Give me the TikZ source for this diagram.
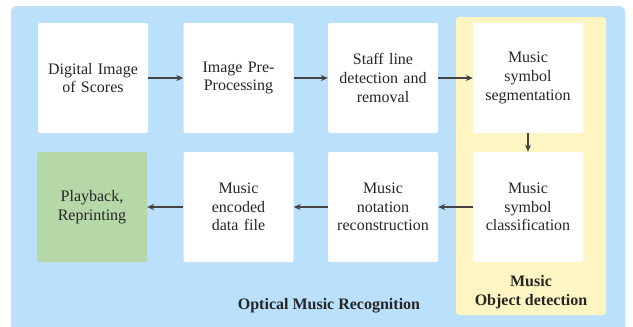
\documentclass[tikz,border=0pt]{standalone}
\usepackage{fontspec}
\setmainfont{Liberation Serif}
\usetikzlibrary{arrows.meta}
\definecolor{bgblue}{HTML}{BBE0FB}
\definecolor{bgyellow}{HTML}{FFF5C2}
\definecolor{boxgreen}{HTML}{B6D7A8}
\definecolor{arrowgray}{HTML}{444444}
\begin{document}
\begin{tikzpicture}[x=1pt,y=-1pt,
  stepbox/.style={fill=white,rounded corners=2pt,minimum width=110pt,minimum height=110pt,
    text width=104pt,align=center,inner sep=0pt,font=\fontsize{16}{18.7}\selectfont,text=black!85},
  flow/.style={draw=arrowgray,line width=1.4pt,-{Stealth[length=7pt,width=6pt]}}]
\useasboundingbox (0,0) rectangle (633,327);
\fill[bgblue,rounded corners=6pt] (11,6) rectangle (625,340);
\fill[bgyellow,rounded corners=3pt] (456,17) rectangle (606,315);
\node[stepbox] (a) at (93,78) {Digital Image\\of Scores};
\node[stepbox] (b) at (238.5,78) {Image Pre-\\Processing};
\node[stepbox] (c) at (383,78) {Staff line\\detection and\\removal};
\node[stepbox] (d) at (528,78) {Music\\symbol\\segmentation};
\node[stepbox] (e) at (528,207) {Music\\symbol\\classification};
\node[stepbox] (f) at (383,207) {Music\\notation\\reconstruction};
\node[stepbox] (g) at (238.5,207) {Music\\encoded\\data file};
\node[stepbox,fill=boxgreen] (h) at (92,207) {Playback,\\Reprinting};
\draw[flow] (a) -- (b);
\draw[flow] (b) -- (c);
\draw[flow] (c) -- (d);
\draw[flow] (d) -- (e);
\draw[flow] (e) -- (f);
\draw[flow] (f) -- (g);
\draw[flow] (g) -- (h);
\node[font=\fontsize{16}{18.7}\selectfont\bfseries,text=black!85] (omr) at (329,306) {Optical Music Recognition};
\node[font=\fontsize{16}{18.7}\selectfont\bfseries,text=black!85,align=center] (mod) at (531,292) {Music\\Object detection};
\end{tikzpicture}
\end{document}
